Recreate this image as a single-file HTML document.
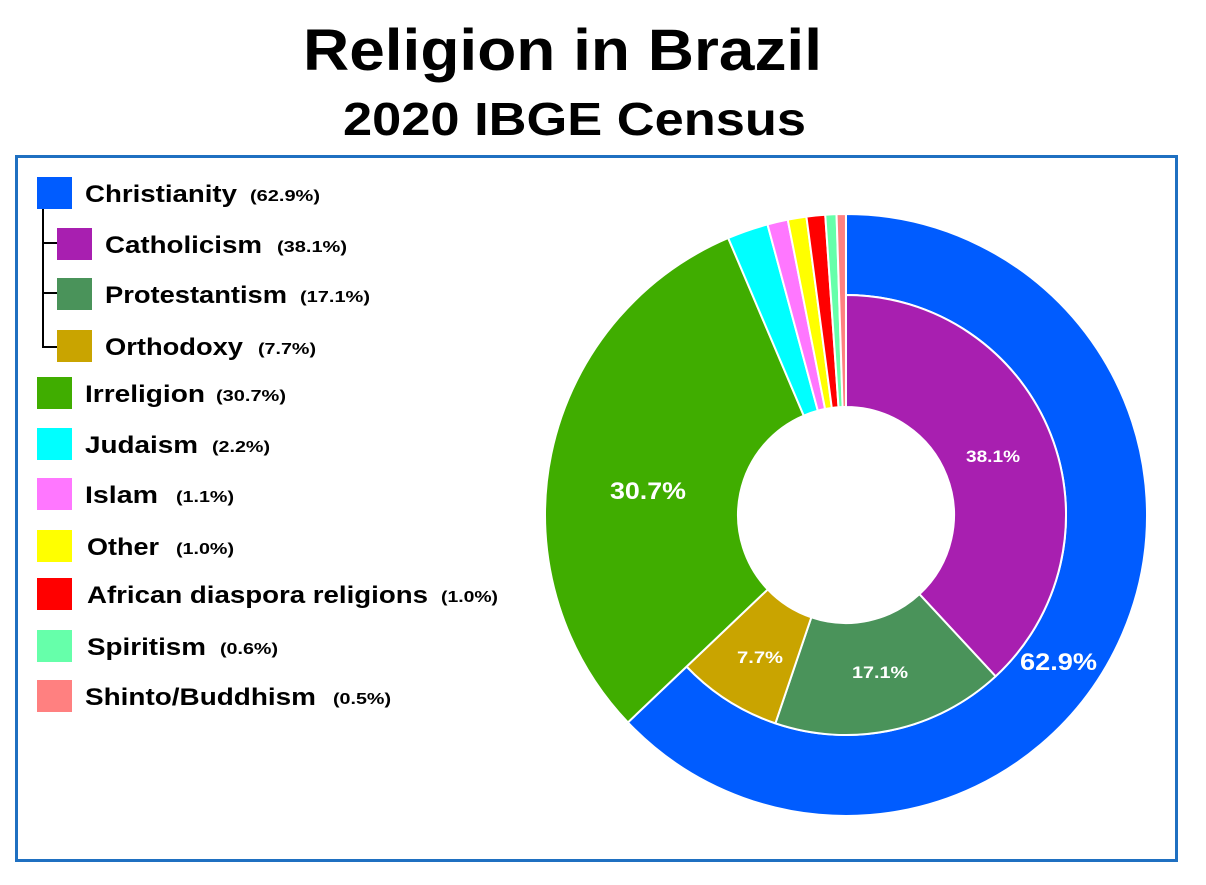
<!DOCTYPE html>
<html><head><meta charset="utf-8"><style>
body{margin:0;background:#fff;width:1206px;height:880px;overflow:hidden;font-family:"Liberation Sans",Arial,sans-serif}
svg text{font-family:"Liberation Sans",Arial,sans-serif;font-weight:bold}
</style></head><body>
<svg id="s" width="1206" height="880" xmlns="http://www.w3.org/2000/svg">
<text x="303" y="70" font-size="58" textLength="519" lengthAdjust="spacingAndGlyphs">Religion in Brazil</text>
<text x="343" y="135" font-size="46" textLength="463" lengthAdjust="spacingAndGlyphs">2020 IBGE Census</text>
<rect x="16.5" y="156.5" width="1160" height="704" fill="none" stroke="#1f70c1" stroke-width="3"/>
<g id="pie" stroke="#fff" stroke-width="2"></g>
<g fill="#fff">
<text x="966" y="462" font-size="17" textLength="54" lengthAdjust="spacingAndGlyphs">38.1%</text>
<text x="852" y="678" font-size="17" textLength="56" lengthAdjust="spacingAndGlyphs">17.1%</text>
<text x="737" y="663" font-size="17" textLength="46" lengthAdjust="spacingAndGlyphs">7.7%</text>
<text x="610" y="499" font-size="24" textLength="76" lengthAdjust="spacingAndGlyphs">30.7%</text>
<text x="1020" y="670" font-size="24" textLength="77" lengthAdjust="spacingAndGlyphs">62.9%</text>
</g>
<g stroke="#000" stroke-width="2" fill="none">
<path d="M43 209 V347 H57 M43 243 H57 M43 293 H57"/>
</g>
<g id="leg"></g>
</svg>
<script>
var cx=846,cy=515;
function P(r,a){a=a*Math.PI/180;return [cx+r*Math.sin(a),cy-r*Math.cos(a)];}
function arc(r1,r2,a1,a2,c){var l=(a2-a1)>180?1:0;var p1=P(r2,a1),p2=P(r2,a2),p3=P(r1,a2),p4=P(r1,a1);
return '<path fill="'+c+'" d="M'+p1+' A'+r2+' '+r2+' 0 '+l+' 1 '+p2+' L'+p3+' A'+r1+' '+r1+' 0 '+l+' 0 '+p4+'Z"/>';}
var h='';
h+=arc(220,301,0,226.44,'#005cff');
h+=arc(108,220,0,137.16,'#a81fb0');
h+=arc(108,220,137.16,198.72,'#4a935a');
h+=arc(108,220,198.72,226.44,'#c9a400');
var o=[[30.7,'#40ad00'],[2.2,'#00ffff'],[1.1,'#ff77ff'],[1.0,'#ffff00'],[1.0,'#ff0000'],[0.6,'#66ffaa'],[0.5,'#ff8080']];
var a=226.44;o.forEach(function(e){var b=a+e[0]*3.6;h+=arc(108,301,a,Math.min(b,359.99),e[1]);a=b;});
document.getElementById('pie').innerHTML=h;
// x,y,color,label,pct,pctX,labelWidth,pctWidth,labelX
var L=[[37,177,'#005cff','Christianity','(62.9%)',250,152,70,85],[57,228,'#a81fb0','Catholicism','(38.1%)',277,157,70,105],[57,278,'#4a935a','Protestantism','(17.1%)',300,182,70,105],[57,330,'#c9a400','Orthodoxy','(7.7%)',258,138,58,105],
[37,377,'#40ad00','Irreligion','(30.7%)',216,120,70,85],[37,428,'#00ffff','Judaism','(2.2%)',212,113,58,85],[37,478,'#ff77ff','Islam','(1.1%)',176,73,58,85],[37,530,'#ffff00','Other','(1.0%)',176,72,58,87],[37,578,'#ff0000','African diaspora religions','(1.0%)',441,341,57,87],[37,630,'#66ffaa','Spiritism','(0.6%)',220,119,58,87],[37,680,'#ff8080','Shinto/Buddhism','(0.5%)',333,231,58,85]];
var g='';L.forEach(function(e){g+='<rect x="'+e[0]+'" y="'+e[1]+'" width="35" height="32" fill="'+e[2]+'"/>';
g+='<text x="'+e[8]+'" y="'+(e[1]+25)+'" font-size="24" textLength="'+e[6]+'" lengthAdjust="spacingAndGlyphs">'+e[3]+'</text>';
g+='<text x="'+e[5]+'" y="'+(e[1]+24)+'" font-size="16" textLength="'+e[7]+'" lengthAdjust="spacingAndGlyphs">'+e[4]+'</text>';});
document.getElementById('leg').innerHTML=g;
</script>
</body></html>
